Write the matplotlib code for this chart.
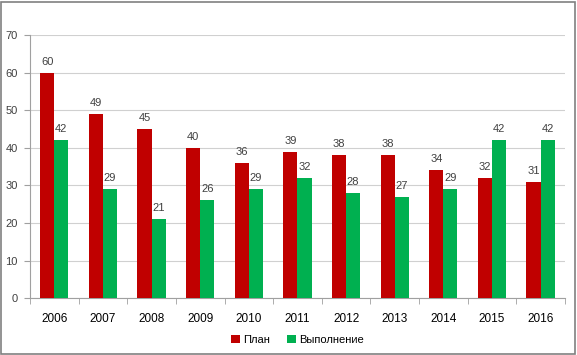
import numpy as np
import matplotlib.pyplot as plt
from matplotlib.patches import Rectangle

# Данные графика
years = ['2006', '2007', '2008', '2009', '2010', '2011', '2012', '2013', '2014', '2015', '2016']
plan = [60, 49, 45, 40, 36, 39, 38, 38, 34, 32, 31]
done = [42, 29, 21, 26, 29, 32, 28, 27, 29, 42, 42]

plt.rcParams['font.family'] = ['Liberation Sans', 'DejaVu Sans']

fig = plt.figure(figsize=(5.77, 3.55), dpi=100)
ax = fig.add_axes([0.052, 0.16, 0.927, 0.741])

x = np.arange(len(years))
w = 0.29
b1 = ax.bar(x - w / 2, plan, w, color='#C00000', label='План', zorder=3)
b2 = ax.bar(x + w / 2, done, w, color='#00B050', label='Выполнение', zorder=3)

for bars in (b1, b2):
    for r in bars:
        ax.text(r.get_x() + r.get_width() / 2, r.get_height() + 1.6, f'{int(r.get_height())}',
                ha='center', va='bottom', fontsize=8, color='#404040')

ax.set_xlim(-0.5, len(years) - 0.5)
ax.set_ylim(0, 70)
ax.set_yticks(range(0, 71, 10))
ax.set_xticks(x)
ax.set_xticklabels(years, fontsize=8.5)
ax.tick_params(axis='x', length=0, pad=11)
ax.tick_params(axis='y', labelsize=8, colors='#404040', length=4, color='#A0A0A0', pad=5)
for lbl in ax.get_xticklabels():
    lbl.set_color('black')

# Засечки между категориями
ax.set_xticks(np.arange(-0.5, len(years)), minor=True)
ax.tick_params(axis='x', which='minor', length=4, color='#A0A0A0')

ax.grid(axis='y', color='#D0D0D0', linewidth=0.8, zorder=0)
for s in ('top', 'right'):
    ax.spines[s].set_visible(False)
ax.spines['left'].set_color('#A0A0A0')
ax.spines['bottom'].set_color('#A0A0A0')

ax.legend(loc='upper center', bbox_to_anchor=(0.5, -0.1), ncol=2, frameon=False,
          fontsize=8, handlelength=0.8, handleheight=0.8, handletextpad=0.3, columnspacing=1.5)

# Рамка вокруг диаграммы
fig.patches.append(Rectangle((0.002, 0.004), 0.994, 0.99, transform=fig.transFigure,
                             fill=False, edgecolor='#808080', linewidth=1.2))

fig.savefig('out.png', dpi=100)
